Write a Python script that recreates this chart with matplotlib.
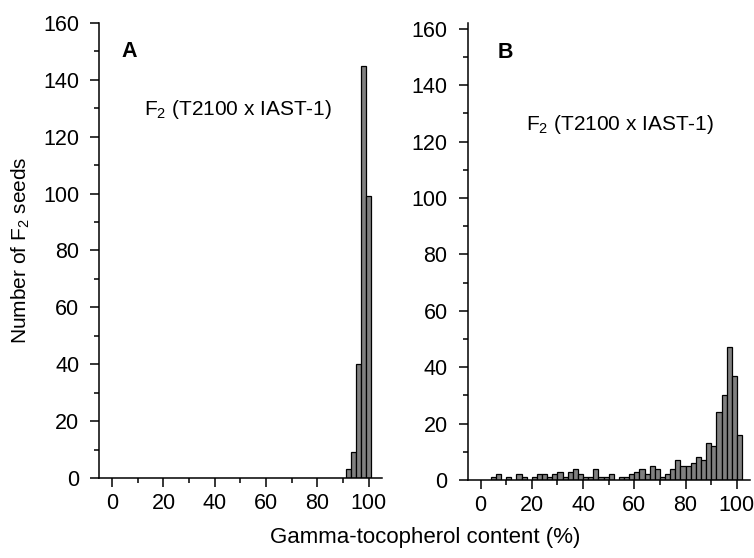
import matplotlib
matplotlib.use("Agg")
import matplotlib.pyplot as plt
from matplotlib.ticker import MultipleLocator

plt.rcParams['font.family'] = ['Liberation Sans', 'DejaVu Sans']
plt.rcParams['mathtext.default'] = 'regular'

# panel A: bin centres (%) and counts
a_centres = [92, 94, 96, 98, 100]
a_counts = [3, 9, 40, 145, 99]

# panel B: 2 % bins, centres at odd values
b_centres = [5, 7, 11, 15, 17, 21, 23, 25, 27, 29, 31, 33, 35, 37, 39, 41, 43, 45,
             47, 49, 51, 55, 57, 59, 61, 63, 65, 67, 69, 71, 73, 75, 77, 79, 81,
             83, 85, 87, 89, 91, 93, 95, 97, 99, 101]
b_counts = [1, 2, 1, 2, 1, 1, 2, 2, 1, 2, 3, 1, 3, 4, 2, 1, 1, 4,
            1, 1, 2, 1, 1, 2, 3, 4, 2, 5, 4, 1, 2, 4, 7, 5, 5,
            6, 8, 7, 13, 12, 24, 30, 47, 37, 16]

cross_label = r'F$_2$ (T2100 x IAST-1)'

fig = plt.figure(figsize=(7.54, 5.58), dpi=100)
axA = fig.add_axes([0.1317, 0.1434, 0.3745, 0.8154])
axB = fig.add_axes([0.6203, 0.1398, 0.374, 0.8185])


def style_axis(ax, centres, counts, ytop):
    ax.bar(centres, counts, width=2, color='#808080',
           edgecolor='black', linewidth=0.9)
    ax.set_xlim(-5, 105)
    ax.set_ylim(0, ytop)
    ax.spines['top'].set_visible(False)
    ax.spines['right'].set_visible(False)
    for s in ('left', 'bottom'):
        ax.spines[s].set_linewidth(1.1)
    ax.xaxis.set_major_locator(MultipleLocator(20))
    ax.xaxis.set_minor_locator(MultipleLocator(10))
    ax.yaxis.set_major_locator(MultipleLocator(20))
    ax.yaxis.set_minor_locator(MultipleLocator(10))
    ax.tick_params(which='major', direction='out', length=6.5, width=1.1,
                   labelsize=15.5)
    ax.tick_params(axis='x', which='major', pad=4)
    ax.tick_params(axis='y', which='major', pad=8)
    ax.tick_params(which='minor', direction='out', length=3.3, width=1.1)


style_axis(axA, a_centres, a_counts, 160)
style_axis(axB, b_centres, b_counts, 162)

axA.text(6.5, 150, 'A', fontsize=15.5, fontweight='bold', ha='center', va='center')
axA.text(12.4, 129.5, cross_label, fontsize=15, ha='left', va='center')
axB.text(9.5, 151.5, 'B', fontsize=15.5, fontweight='bold', ha='center', va='center')
axB.text(17.9, 126, cross_label, fontsize=15, ha='left', va='center')

axA.set_ylabel(r'Number of F$_2$ seeds', fontsize=15)
axA.yaxis.set_label_coords(-0.238, 0.5)
fig.text(0.5635, 0.037, 'Gamma-tocopherol content (%)', fontsize=16,
         ha='center', va='center')

fig.savefig('out.png', dpi=100)
